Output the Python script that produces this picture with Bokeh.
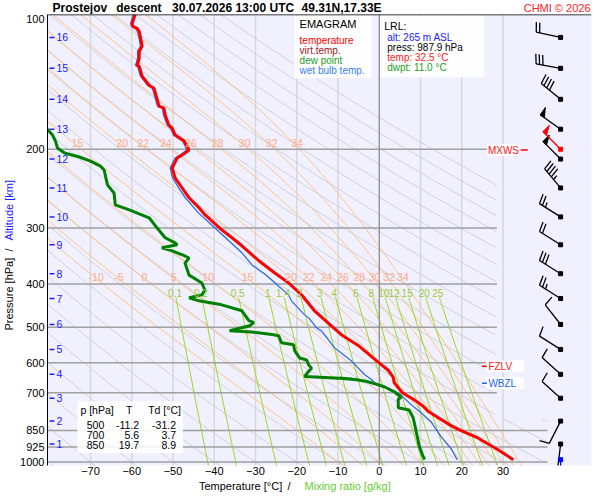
import numpy as np
from bokeh.plotting import figure
from bokeh.layouts import row, column
from bokeh.models import Range1d, FixedTicker, Label, Span, PrintfTickFormatter
from bokeh.embed import file_html
from bokeh.resources import INLINE

FONT = "Liberation Sans"

# ---------------- data ----------------
# sounding: (pressure hPa, value degC)
temperature = [(100.0, -59.2), (104.7, -59.9), (106.3, -59.7), (107.4, -58.7), (109.1, -58.2), (114.8, -57.7),
               (117.8, -57.5), (120.9, -58.2), (125.3, -58.2), (129.9, -58.7), (130.5, -58.2), (137.4, -57.5),
               (143.9, -55.8), (146.2, -54.6), (153.9, -53.9), (160.3, -53.4), (161.9, -52.2), (167.8, -51.9),
               (176.7, -51.0), (179.5, -50.2), (185.9, -49.5), (191.8, -47.3), (200.8, -46.1), (206.0, -47.8),
               (209.3, -49.0), (220.3, -50.2), (231.9, -49.5), (244.0, -47.8), (256.8, -46.1), (270.2, -43.7),
               (280.0, -42.3), (289.0, -40.6), (302.7, -38.2), (315.4, -35.7), (328.7, -33.3), (344.1, -30.9),
               (354.9, -29.2), (377.7, -25.4), (397.8, -22.0), (423.4, -18.8), (459.2, -15.7), (500.0, -11.2),
               (519.3, -9.2), (548.9, -5.1), (598.6, -0.2), (623.7, 2.2), (646.8, 3.4), (664.0, 3.6),
               (700.0, 5.6), (726.3, 8.5), (749.5, 10.6), (769.7, 11.8), (829.1, 17.4), (850.0, 19.7),
               (883.4, 23.9), (937.3, 28.7), (987.9, 32.5)]
wet_bulb = [(100.0, -59.6), (104.7, -60.3), (106.3, -60.1), (107.4, -59.1), (109.1, -58.6), (114.8, -58.1),
            (117.8, -57.9), (120.9, -58.6), (125.3, -58.6), (129.9, -59.1), (130.5, -58.6), (137.4, -57.9),
            (143.9, -56.2), (146.2, -55.0), (153.9, -54.3), (160.3, -53.8), (161.9, -52.6), (167.8, -52.3),
            (176.7, -51.4), (179.5, -50.6), (185.9, -49.9), (191.8, -47.7), (200.8, -46.6), (206.0, -48.3),
            (209.3, -49.5), (220.3, -50.7), (231.9, -50.1), (244.0, -48.6), (256.8, -47.0), (277.2, -43.9),
            (299.6, -39.9), (340.8, -33.3), (362.3, -30.9), (381.0, -27.6), (423.2, -22.0), (436.3, -21.3),
            (469.0, -18.1), (476.3, -17.1), (501.3, -15.2), (509.3, -14.0), (555.1, -10.9), (594.1, -6.8),
            (637.3, -3.6), (653.9, -1.9), (664.0, -1.2), (674.5, 0.5), (688.8, 2.9), (700.0, 4.5),
            (710.4, 5.4), (744.3, 7.7), (769.7, 9.7), (813.8, 12.6), (878.9, 15.0), (933.1, 17.4),
            (987.9, 18.9)]
dew_point = [(170.0, -84.0), (179.6, -80.7), (186.0, -79.2), (191.8, -78.5), (198.7, -78.0), (204.0, -76.3),
             (208.2, -72.7), (212.6, -70.0), (218.1, -67.6), (222.5, -66.7), (240.3, -65.9), (250.5, -64.3),
             (266.4, -64.0), (273.2, -60.6), (284.6, -55.8), (296.4, -54.3), (315.4, -51.9), (323.7, -49.5),
             (327.0, -49.0), (332.2, -52.7), (337.5, -50.2), (346.4, -47.1), (350.0, -46.1), (359.3, -47.1),
             (382.3, -46.1), (398.0, -43.0), (412.4, -42.3), (423.2, -43.0), (429.6, -46.1), (436.3, -43.7),
             (445.4, -38.2), (459.2, -33.3), (483.2, -31.6), (488.2, -30.4), (496.0, -31.4), (509.0, -36.3),
             (512.0, -31.0), (519.0, -26.0), (522.0, -24.4), (541.2, -23.7), (546.8, -20.8), (564.2, -20.5),
             (585.4, -19.3), (591.5, -17.6), (607.3, -17.1), (617.0, -16.4), (626.8, -17.1), (643.6, -18.1),
             (648.0, -12.0), (652.0, -6.5), (650.0, -9.5), (655.0, -5.5), (661.0, -3.0), (668.0, -1.2),
             (678.9, 1.2), (697.4, 3.7), (716.4, 5.3), (724.2, 4.6), (756.6, 4.6), (765.0, 7.2),
             (795.3, 8.2), (850.0, 8.9), (921.7, 9.7), (965.0, 10.5), (987.9, 11.0)]

alt_km = [16, 15, 14, 13, 12, 11, 10, 9, 8, 7, 6, 5, 4, 3, 2, 1]
alt_p = [112.5, 131.9, 154.7, 180.4, 210.4, 244.1, 283.3, 327.0, 379.5, 431.2, 492.8, 560.2, 636.8, 720.1, 810.2, 911.7]
wind_dir = [282, 280, 309, 305, 315, 320, 302, 302, 302, 302, 322, 302, 312, 312, 207, 187]
wind_kt = [20, 30, 40, 50, 50, 45, 25, 20, 30, 25, 10, 10, 10, 10, 10, 10]
mxws_p, mxws_dir, mxws_kt = 200.0, 315, 50
sfc_p, sfc_dir, sfc_kt = 987.9, 180, 10

lrl_alt, lrl_press, lrl_temp, lrl_dwpt = 265, 987.9, 32.5, 11.0
tbl_p = [500, 700, 850]
tbl_T = [-11.2, 5.6, 19.7]
tbl_Td = [-31.2, 3.7, 8.9]

title_parts = ["Prostejov", "descent", "30.07.2026 13:00 UTC", "49.31N,17.33E"]
p_ticks = [100, 200, 300, 400, 500, 600, 700, 850, 925, 1000]
p_lines = [200, 300, 400, 500, 600, 700, 850, 925, 1000]
isotherms = [-70, -60, -50, -40, -30, -20, -10, 10, 20, 30]
t_ticks = [-70, -60, -50, -40, -30, -20, -10, 0, 10, 20, 30]
theta_dry = list(range(-80, 181, 10))
theta_w = [-10, -5, 0, 5, 10, 15, 20, 22, 24, 26, 28, 30, 32, 34]
mix_ratio = [0.1, 0.2, 0.5, 1, 1.4, 2, 3, 4, 6, 8, 10, 12, 15, 20, 25]

# ---------------- geometry ----------------
LW = 17            # left strip (y axis title)
TH = 14            # top strip (title)
BH = 13            # bottom strip (x axis title)
TOTW, TOTH = 592, 492
MW = TOTW - LW
MH = TOTH - TH - BH
ML, MR, MT, MB = 28, 1, 0, 14
XMIN, XMAX = -80.43, 51.45
PTOP, PBOT = 100.0, 1018.0
FW = MW - ML - MR
FH = MH - MT - MB
KX = FW / (XMAX - XMIN)
KY = FH / (np.log10(PBOT) - np.log10(PTOP))


def Tx(xpage):
    return XMIN + (xpage - LW - ML) / KX


def Py(ypage):
    return 10 ** (2 + (ypage - 16) / 449.0)


def tmax(P):
    return np.where(P < 800, 28.5, 40.8)


def strip(w, h, ml, mr, xr):
    f = figure(width=w, height=h, x_range=xr, y_range=Range1d(h, 0),
               x_axis_location=None, y_axis_location=None, output_backend="svg", toolbar_location=None,
               min_border_left=ml, min_border_right=mr, min_border_top=0, min_border_bottom=0)
    f.outline_line_color = None
    f.grid.visible = False
    f.background_fill_color = "white"
    f.border_fill_color = "white"
    return f


def txt(fig, x, y, s, color="black", size="10px", align="left", baseline="middle", bold=False, angle=0.0):
    fig.add_layout(Label(x=x, y=y, text=s, text_color=color, text_font=FONT, text_font_size=size,
                         text_align=align, text_baseline=baseline,
                         text_font_style="bold" if bold else "normal", angle=angle))


p = figure(width=MW, height=MH, x_range=Range1d(XMIN, XMAX), y_range=Range1d(PBOT, PTOP),
           y_axis_type="log", output_backend="svg", toolbar_location=None,
           min_border_left=ML, min_border_right=MR, min_border_top=MT, min_border_bottom=MB)
p.background_fill_color = "#f0f0ff"
p.border_fill_color = "white"
p.outline_line_color = None
p.xgrid.visible = False
p.ygrid.visible = False

p.yaxis.ticker = FixedTicker(ticks=p_ticks)
p.yaxis.formatter = PrintfTickFormatter(format="%d")
p.yaxis.major_tick_line_color = None
p.yaxis.minor_tick_line_color = None
p.yaxis.major_tick_out = 0
p.yaxis.major_tick_in = 0
p.yaxis.major_label_standoff = 3
p.yaxis.axis_line_color = "black"
p.yaxis.major_label_text_font = FONT
p.yaxis.major_label_text_font_size = "11px"
p.yaxis.major_label_text_color = "black"

p.xaxis.ticker = FixedTicker(ticks=t_ticks)
p.xaxis.major_tick_line_color = None
p.xaxis.minor_tick_line_color = None
p.xaxis.major_tick_out = 0
p.xaxis.major_tick_in = 0
p.xaxis.major_label_standoff = 1
p.xaxis.axis_line_color = None
p.xaxis.major_label_text_font = FONT
p.xaxis.major_label_text_font_size = "11px"
p.xaxis.major_label_text_color = "black"


def runs(xs, ys, mask):
    out, cx, cy = [], [], []
    for x, y, m in zip(xs, ys, mask):
        if m:
            cx.append(float(x))
            cy.append(float(y))
        else:
            if len(cx) > 1:
                out.append((cx, cy))
            cx, cy = [], []
    if len(cx) > 1:
        out.append((cx, cy))
    return out


# isotherms
p.multi_line(xs=[[t, t] for t in isotherms], ys=[[PBOT, PTOP]] * len(isotherms),
             line_color="#d8d8d8", line_width=1.5)

# dry adiabats
pg = np.geomspace(1030, 100, 400)
dxs, dys = [], []
for th in theta_dry:
    T = (th + 273.15) * (pg / 1000.0) ** 0.2857 - 273.15
    for a, b in runs(T, pg, (T <= tmax(pg)) & (T > XMIN - 30)):
        dxs.append(a)
        dys.append(b)
p.multi_line(xs=dxs, ys=dys, line_color="#cfcfd6", line_width=1)

# moist (pseudo) adiabats
Rd, cpd, Lv, eps = 287.04, 1005.7, 2.501e6, 0.622


def dTdlnp(T, pr):
    es = 6.112 * np.exp(17.67 * (T - 273.15) / (T - 29.65))
    rs = eps * es / (pr - es)
    return (Rd * T + Lv * rs) / (cpd + Lv * Lv * rs * eps / (Rd * T * T))


def integrate(T0, p_from, p_to, n):
    lnp = np.linspace(np.log(p_from), np.log(p_to), n)
    T = T0
    Ts = [T]
    for i in range(n - 1):
        h = lnp[i + 1] - lnp[i]
        p0, pm, p1 = np.exp(lnp[i]), np.exp(lnp[i] + h / 2), np.exp(lnp[i + 1])
        k1 = dTdlnp(T, p0)
        k2 = dTdlnp(T + h * k1 / 2, pm)
        k3 = dTdlnp(T + h * k2 / 2, pm)
        k4 = dTdlnp(T + h * k3, p1)
        T = T + h * (k1 + 2 * k2 + 2 * k3 + k4) / 6
        Ts.append(T)
    return np.exp(lnp), np.array(Ts)


mxs, mys, moist_curves = [], [], []
for tw in theta_w:
    pu, Tu = integrate(tw + 273.15, 1000.0, 100.0, 361)
    pd, Td_ = integrate(tw + 273.15, 1000.0, 1030.0, 6)
    P = np.concatenate([pd[::-1], pu[1:]])
    T = np.concatenate([Td_[::-1], Tu[1:]]) - 273.15
    moist_curves.append((P, T))
    for a, b in runs(T, P, (T <= tmax(P)) & (T > XMIN - 30)):
        mxs.append(a)
        mys.append(b)
p.multi_line(xs=mxs, ys=mys, line_color="#ffc080", line_width=1)

# mixing ratio lines
p_mix_top = Py(300)
pm_ = np.geomspace(1030, p_mix_top, 60)


def mix_T(w, pr):
    e = (w / 1000.0) * pr / (eps + w / 1000.0)
    l = np.log(e / 6.112)
    return 243.5 * l / (17.67 - l)


p.multi_line(xs=[list(mix_T(w, pm_)) for w in mix_ratio], ys=[list(pm_)] * len(mix_ratio),
             line_color="#99d81a", line_width=1)

# pressure lines
for lev in p_lines:
    p.line([XMIN, float(tmax(np.array(lev)))], [lev, lev], line_color="#a0a0a0", line_width=1.5)
# 0 degC isotherm
p.line([0, 0], [PBOT, PTOP], line_color="#8c8c8c", line_width=1.3)
p.add_layout(Span(location=PTOP, dimension="width", line_color="black", line_width=1.5))

# moist adiabat labels
p_lab400 = Py(279)
p_lab200 = Py(145)
for tw, (P, T) in zip(theta_w, moist_curves):
    t4 = np.interp(np.log(p_lab400), np.log(P[::-1]), T[::-1]) + 0.6
    txt(p, t4, p_lab400, str(tw), color="#ffaa88", size="10.5px", align="center")
    t2 = np.interp(np.log(p_lab200), np.log(P[::-1]), T[::-1]) + 0.9
    if t2 > -77:
        txt(p, t2, p_lab200, str(tw), color="#ffaa88", size="10.5px", align="center")

# mixing ratio labels
p_labmix = Py(295)
for w in mix_ratio:
    txt(p, float(mix_T(w, p_labmix)), p_labmix, f"{w:g}", color="#99cc33", size="10px", align="center")

# altitude marks
p.segment(x0=[Tx(47)] * len(alt_p), y0=alt_p, x1=[Tx(52)] * len(alt_p), y1=alt_p,
          line_color="#2020ff", line_width=1.5)
for km, pa in zip(alt_km, alt_p):
    txt(p, Tx(54), pa, str(km), color="#2020ff", size="10.5px")

# sounding curves
p.line([t for _, t in wet_bulb], [q for q, _ in wet_bulb], line_color="#2266ee", line_width=1.2)
p.line([t for _, t in dew_point], [q for q, _ in dew_point], line_color="#008000", line_width=3)
p.line([t for _, t in temperature], [q for q, _ in temperature], line_color="#ff0000", line_width=3)


# boxes
def box(x0, x1, y0, y1):
    p.quad(left=Tx(x0), right=Tx(x1), top=Py(y0), bottom=Py(y1), fill_color="white", fill_alpha=0.88,
           line_color=None)


box(293, 370, 17, 80)
box(379, 483, 17, 79)
box(75, 181, 404, 456)
box(485, 523, 363, 375)
box(485, 523, 380, 392)
box(486, 518, 146, 158)

txt(p, Tx(298), Py(26), "EMAGRAM", size="11px")
txt(p, Tx(298), Py(42), "temperature", color="#ff0000")
txt(p, Tx(298), Py(52), "virt.temp.", color="#a02020")
txt(p, Tx(298), Py(62), "dew point", color="#20a020")
txt(p, Tx(298), Py(72), "wet bulb temp.", color="#3a7ff0")

txt(p, Tx(383), Py(28), "LRL:", size="10.5px")
txt(p, Tx(386), Py(39), f"alt: {lrl_alt} m ASL", color="#2020ff")
txt(p, Tx(386), Py(49.5), f"press: {lrl_press:.1f} hPa")
txt(p, Tx(386), Py(59.5), f"temp: {lrl_temp:.1f} \u00b0C", color="#ff2020")
txt(p, Tx(386), Py(69.5), f"dwpt: {lrl_dwpt:.1f} \u00b0C", color="#20a020")

txt(p, Tx(78), Py(413), "p [hPa]", size="10.5px")
txt(p, Tx(127), Py(413), "T", size="10.5px", align="center")
txt(p, Tx(146), Py(413), "Td [\u00b0C]", size="10.5px")
for i, (pp, tt, dd) in enumerate(zip(tbl_p, tbl_T, tbl_Td)):
    yy = Py(428 + 10 * i)
    txt(p, Tx(102), yy, f"{pp}", size="10.5px", align="right")
    txt(p, Tx(137), yy, f"{tt:.1f}", size="10.5px", align="right")
    txt(p, Tx(174), yy, f"{dd:.1f}", size="10.5px", align="right")

# level labels
p.segment(x0=[Tx(481), Tx(481)], y0=[Py(369), Py(386)], x1=[Tx(486), Tx(486)], y1=[Py(369), Py(386)],
          line_color=["#ff0000", "#2266ee"], line_width=1.5)
txt(p, Tx(487.5), Py(369), "FZLV", color="#ff2020")
txt(p, Tx(487.5), Py(386), "WBZL", color="#2266ee")
txt(p, Tx(487), Py(152), "MXWS", color="#ff2020")
p.segment(x0=[Tx(520)], y0=[Py(152)], x1=[Tx(527)], y1=[Py(152)], line_color="#ff0000", line_width=1.5)


# wind barbs
def barb(p0, d, kt):
    T0 = Tx(560)
    ux, uy = np.sin(np.radians(d)), -np.cos(np.radians(d))
    qx, qy = -uy, ux
    L = 25.0
    segs = [((0.0, 0.0), (ux * L, uy * L))]
    tris = []
    pos = L
    for _ in range(kt // 50):
        tris.append([(ux * pos, uy * pos), (ux * pos + qx * 9, uy * pos + qy * 9),
                     (ux * (pos - 5), uy * (pos - 5))])
        pos -= 6
    for _ in range((kt % 50) // 10):
        segs.append(((ux * pos, uy * pos), (ux * pos + qx * 10 + ux * 2, uy * pos + qy * 10 + uy * 2)))
        pos -= 3.5
    if kt % 10 >= 5:
        segs.append(((ux * pos, uy * pos), (ux * pos + qx * 5 + ux * 1, uy * pos + qy * 5 + uy * 1)))

    def cv(pt):
        return (T0 + pt[0] / KX, p0 * 10 ** (pt[1] / KY))

    return [(cv(a), cv(b)) for a, b in segs], [[cv(c) for c in t] for t in tris], (T0, p0)


def draw_barb(p0, d, kt, color):
    segs, tris, base = barb(p0, d, kt)
    p.segment(x0=[a[0] for a, b in segs], y0=[a[1] for a, b in segs],
              x1=[b[0] for a, b in segs], y1=[b[1] for a, b in segs], line_color=color, line_width=1.3)
    if tris:
        p.patches(xs=[[c[0] for c in t] for t in tris], ys=[[c[1] for c in t] for t in tris],
                  fill_color=color, line_color=color, line_width=1)
    p.scatter([base[0]], [base[1]], marker="square", size=4, color=color)


for pa, d, kt in zip(alt_p, wind_dir, wind_kt):
    draw_barb(pa, d, kt, "black")
draw_barb(mxws_p, mxws_dir, mxws_kt, "#ff0000")
draw_barb(sfc_p, sfc_dir, sfc_kt, "#0000ff")

# ---------------- strips with the titles (same x mapping as the diagram) ----------------
top = strip(MW, TH, ML, MR, Range1d(XMIN, XMAX))
for part, xa in zip(title_parts, [50, 114, 170, 300]):
    txt(top, Tx(xa), 7.5, part, size="12px", bold=True)
txt(top, Tx(590), 7.5, "CHMI \u00a9 2026", color="#ff2020", size="11px", align="right")

bot = strip(MW, BH, ML, MR, Range1d(XMIN, XMAX))
txt(bot, Tx(197), 6.5, "Temperature [\u00b0C]", size="11px")
txt(bot, Tx(286), 6.5, "/", size="11px")
txt(bot, Tx(303), 6.5, "Mixing ratio [g/kg]", color="#66cc33", size="11px")

left = strip(LW, TOTH, 0, 0, Range1d(0, LW))
txt(left, 8, 330, "Pressure [hPa]", size="11px", angle=np.pi / 2)
txt(left, 8, 251, "/", size="11px", angle=np.pi / 2)
txt(left, 8, 240, "Altitude [km]", color="#2020ff", size="11px", angle=np.pi / 2)

layout = row(left, column(top, p, bot, spacing=0), spacing=0)
open("out.html", "w").write(file_html(layout, INLINE))
